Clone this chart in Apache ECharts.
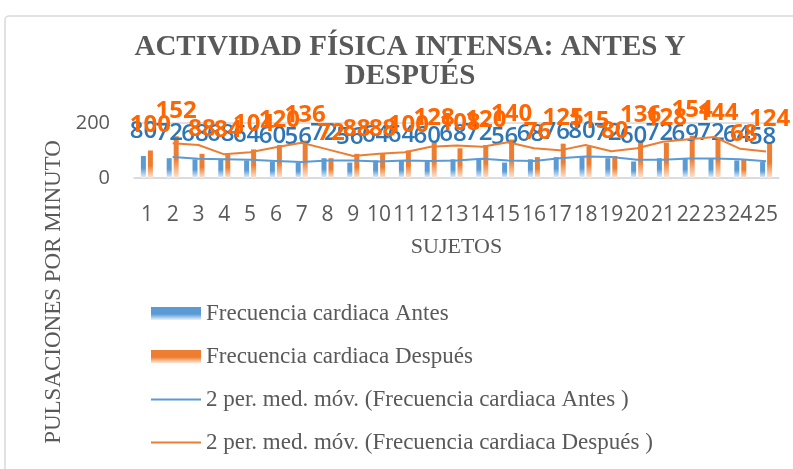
<!DOCTYPE html>
<html lang="es">
<head>
<meta charset="UTF-8">
<title>Actividad física intensa</title>
<script src="https://cdn.jsdelivr.net/npm/echarts@6/dist/echarts.min.js"></script>
<style>
    * {
        margin: 0;
        padding: 0;
    }

    body {
        background-color: #fff;
    }

    #chart {
        width: 793px;
        height: 469px;
    }
</style>
</head>
<body>
<div id="chart"></div>
<script>
    // datos
    var sujetos = ['1', '2', '3', '4', '5', '6', '7', '8', '9', '10', '11', '12', '13',
        '14', '15', '16', '17', '18', '19', '20', '21', '22', '23', '24', '25'];
    var antes = [80, 72, 68, 68, 64, 60, 56, 72, 56, 64, 64, 60, 68, 72, 56, 68, 76, 80, 72, 60, 72, 69, 72, 64, 58];
    var despues = [100, 152, 88, 84, 104, 120, 136, 72, 88, 88, 100, 128, 108, 120, 140, 76, 125, 115, 80, 136, 128, 154, 144, 68, 124];
    // medias moviles de 2 periodos (linea de tendencia)
    var mediaAntes = ['-', 76, 70, 68, 66, 62, 58, 64, 64, 60, 64, 62, 64, 70, 64, 62, 72, 78, 76, 66, 66, 70.5, 70.5, 68, 61];
    var mediaDespues = ['-', 126, 120, 86, 94, 112, 128, 104, 80, 88, 94, 114, 118, 114, 130, 108, 100.5, 120, 97.5, 108, 132, 141, 149, 106, 96];
    var yTicks = [0, 200];

    var gris = '#595959';
    var azul = '#5B9BD5';
    var naranja = '#ED7D31';
    // icono de linea fina para la leyenda
    var iconoLinea = 'path://M0,0H48V2H0Z';

    function degradado(arriba, abajo) {
        return new echarts.graphic.LinearGradient(0, 0, 0, 1, [
            { offset: 0, color: arriba },
            { offset: 0.55, color: arriba },
            { offset: 1, color: abajo }
        ]);
    }

    var myChart = echarts.init(document.getElementById('chart'));

    var option = {
        animation: false,
        graphic: [
            {
                type: 'rect',
                shape: { x: 5, y: 16, width: 820, height: 480, r: 4 },
                style: { fill: 'none', stroke: '#D9D9D9', lineWidth: 1.5 },
                silent: true
            },
            {
                type: 'text',
                x: 410,
                y: 62,
                style: {
                    text: 'ACTIVIDAD FÍSICA INTENSA: ANTES Y\nDESPUÉS',
                    fill: gris,
                    font: 'bold 29px "Liberation Serif", serif',
                    lineHeight: 29,
                    align: 'center',
                    verticalAlign: 'middle'
                }
            },
            {
                type: 'text',
                x: 54,
                y: 292,
                rotation: Math.PI / 2,
                style: {
                    text: 'PULSACIONES POR MINUTO',
                    fill: gris,
                    font: '23px "Liberation Serif", serif',
                    align: 'center',
                    verticalAlign: 'middle'
                }
            }
        ],
        legend: {
            orient: 'vertical',
            left: 146,
            top: 297,
            itemWidth: 50,
            itemHeight: 13,
            itemGap: 20,
            textStyle: {
                color: gris,
                fontFamily: '"Liberation Serif", serif',
                fontSize: 23,
                lineHeight: 23
            },
            data: [
                { name: 'Frecuencia cardiaca Antes', icon: 'rect' },
                { name: 'Frecuencia cardiaca Después', icon: 'rect' },
                { name: '2 per. med. móv. (Frecuencia cardiaca Antes )', icon: iconoLinea },
                { name: '2 per. med. móv. (Frecuencia cardiaca Después )', icon: iconoLinea }
            ]
        },
        grid: {
            left: 134,
            right: 14,
            top: 123,
            height: 55,
            containLabel: false,
            outerBoundsMode: 'none'
        },
        xAxis: {
            type: 'category',
            data: sujetos,
            name: 'SUJETOS',
            nameLocation: 'middle',
            nameGap: 58,
            nameTextStyle: {
                color: gris,
                fontFamily: '"Liberation Serif", serif',
                fontSize: 22
            },
            axisTick: { show: false },
            axisLine: { lineStyle: { color: '#D9D9D9', width: 1.5 } },
            axisLabel: {
                interval: 0,
                margin: 27,
                color: gris,
                fontFamily: '"Open Sans", sans-serif',
                fontSize: 21
            }
        },
        yAxis: {
            type: 'value',
            min: yTicks[0],
            max: yTicks[1],
            interval: 200,
            axisLine: { show: false },
            axisTick: { show: false },
            splitLine: { lineStyle: { color: '#D9D9D9', width: 1.5 } },
            axisLabel: {
                margin: 24,
                color: gris,
                fontFamily: '"Open Sans", sans-serif',
                fontSize: 20
            }
        },
        series: [
            {
                name: 'Frecuencia cardiaca Antes',
                type: 'bar',
                data: antes,
                barWidth: 5,
                barGap: '40%',
                itemStyle: { color: degradado(azul, '#EAF2FB') },
                label: {
                    show: true,
                    position: 'top',
                    distance: 13,
                    color: '#2E75B6',
                    fontFamily: '"Open Sans", sans-serif',
                    fontWeight: 600,
                    fontSize: 24,
                    lineHeight: 24
                }
            },
            {
                name: 'Frecuencia cardiaca Después',
                type: 'bar',
                data: despues,
                barWidth: 5,
                itemStyle: { color: degradado(naranja, '#FCE6D6') },
                label: {
                    show: true,
                    position: 'top',
                    distance: 13,
                    color: '#FF6600',
                    fontFamily: '"Open Sans", sans-serif',
                    fontWeight: 'bold',
                    fontSize: 24,
                    lineHeight: 24
                }
            },
            {
                name: '2 per. med. móv. (Frecuencia cardiaca Antes )',
                type: 'line',
                data: mediaAntes,
                symbol: 'none',
                color: azul,
                lineStyle: { color: azul, width: 2 }
            },
            {
                name: '2 per. med. móv. (Frecuencia cardiaca Después )',
                type: 'line',
                data: mediaDespues,
                symbol: 'none',
                color: naranja,
                lineStyle: { color: naranja, width: 2 }
            }
        ]
    };

    myChart.setOption(option);
</script>
</body>
</html>
